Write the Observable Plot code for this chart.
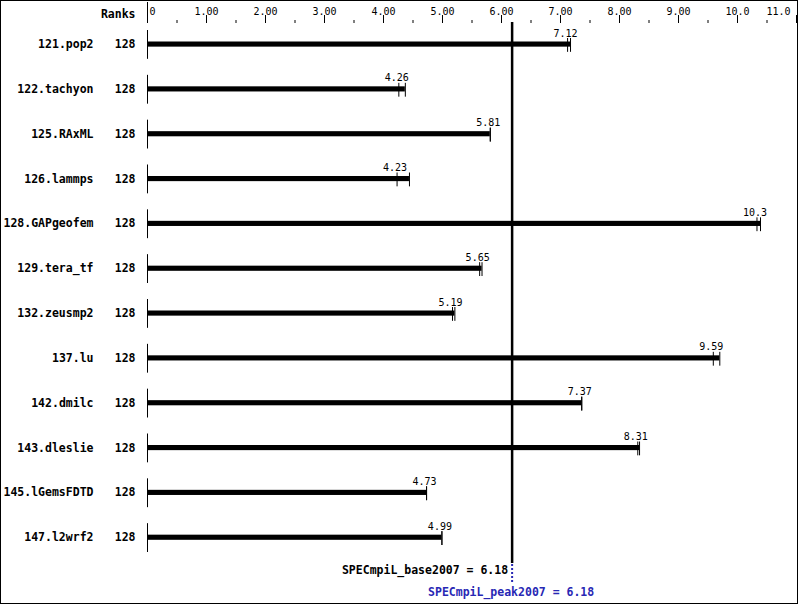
<!DOCTYPE html>
<html>
<head>
<meta charset="utf-8">
<script src="https://cdn.jsdelivr.net/npm/d3@7"></script>
<script src="https://cdn.jsdelivr.net/npm/@observablehq/plot@0.6"></script>
<style>
  body { margin: 0; background: #fff; }
  #wrap { position: relative; width: 799px; height: 606px; }
  #chart svg { display: block; }
  #chart svg, #chart svg text { font-family: "DejaVu Sans Mono", "Liberation Mono", monospace !important; }
  #border { position: absolute; left: 0; top: 0; width: 798px; height: 604px; box-sizing: border-box; border: 1px solid #000; pointer-events: none; }
</style>
</head>
<body>
<div id="wrap"><div id="chart"></div><div id="border"></div></div>
<script>
const names = ["121.pop2","122.tachyon","125.RAxML","126.lammps","128.GAPgeofem","129.tera_tf","132.zeusmp2","137.lu","142.dmilc","143.dleslie","145.lGemsFDTD","147.l2wrf2"];
const ranks = [128,128,128,128,128,128,128,128,128,128,128,128];
const labels = ["7.12","4.26","5.81","4.23","10.3","5.65","5.19","9.59","7.37","8.31","4.73","4.99"];
const runLow  = [7.12,4.26,5.81,4.23,10.33,5.63,5.17,9.59,7.36,8.31,4.73,4.99];
const runHigh = [7.17,4.37,5.81,4.44,10.39,5.67,5.21,9.70,7.36,8.34,4.73,4.99];
const majorTicks = [1,2,3,4,5,6,7,8,9,10,11];
const majorTickLabels = ["1.00","2.00","3.00","4.00","5.00","6.00","7.00","8.00","9.00","10.0","11.0"];
const minorTicks = [0.5,1.5,2.5,3.5,4.5,5.5,6.5,7.5,8.5,9.5,10.5];
const baseScore = 6.18;
const peakScore = 6.18;

const rows = names.map((n, i) => ({name: n, ranks: ranks[i], label: labels[i], lo: runLow[i], hi: runHigh[i]}));
const runs = rows.flatMap(r => [{name: r.name, v: r.lo}, {name: r.name, v: r.hi}]);
const centerTicks = majorTicks.slice(0, -1);
const lastTick = majorTicks[majorTicks.length - 1];

const chart = Plot.plot({
  width: 799,
  height: 606,
  marginLeft: 147,
  marginRight: 3,
  marginTop: 22,
  marginBottom: 46,
  style: {color: "#000", background: "#fff"},
  x: {domain: [0, 11]},
  y: {type: "band", domain: names, padding: 0, round: false, axis: null},
  marks: [
    Plot.axisX({anchor: "top", ticks: majorTicks, tickSize: 8, text: null, label: null, stroke: "#000"}),
    Plot.text(centerTicks, {x: d => d, text: d => majorTickLabels[majorTicks.indexOf(d)], frameAnchor: "top", dy: -14.5, fontSize: 10, fill: "#000"}),
    Plot.text([lastTick], {x: d => d, text: d => majorTickLabels[majorTicks.indexOf(d)], frameAnchor: "top", dy: -14.5, dx: -6, textAnchor: "end", fontSize: 10, fill: "#000"}),
    Plot.axisX({anchor: "top", ticks: minorTicks, tickSize: 3, text: null, label: null, stroke: "#000"}),
    Plot.axisX({anchor: "top", ticks: [0], tickSize: 21, text: null, label: null, stroke: "#000"}),
    Plot.text(["0"], {x: 0, frameAnchor: "top", dy: -14.5, dx: 2, textAnchor: "start", fontSize: 10, fill: "#000"}),
    Plot.text(["Ranks"], {x: 0, frameAnchor: "top", dy: -13, dx: -12, textAnchor: "end", fontSize: 11.5, fontWeight: "bold", fill: "#000"}),
    Plot.tickX(rows, {x: 0, y: "name", insetTop: 8, insetBottom: 8, stroke: "#000", strokeWidth: 1}),
    Plot.barX(rows, {x1: 0, x2: "hi", y: "name", insetTop: 19.5, insetBottom: 20.2, fill: "#000"}),
    Plot.tickX(runs, {x: "v", y: "name", insetTop: 16, insetBottom: 15, stroke: "#000", strokeWidth: 1}),
    Plot.text(rows, {x: "lo", y: "name", text: "label", dy: -11.5, dx: -2, fontSize: 10, fill: "#000"}),
    Plot.text(rows, {x: 0, y: "name", text: "name", dx: -54, dy: -0.5, textAnchor: "end", fontSize: 11.5, fontWeight: "bold", fill: "#000"}),
    Plot.text(rows, {x: 0, y: "name", text: d => String(d.ranks), dx: -12, dy: -0.5, textAnchor: "end", fontSize: 11.5, fontWeight: "bold", fill: "#000"}),
    Plot.ruleX([baseScore], {stroke: "#000", strokeWidth: 2.5, insetBottom: -3}),
    Plot.ruleX([peakScore], {stroke: "#2828b4", strokeWidth: 2, strokeDasharray: "2,2", insetTop: 542, insetBottom: -23}),
    Plot.text([`SPECmpiL_base2007 = ${baseScore.toFixed(2)}`], {x: baseScore, frameAnchor: "bottom", dy: 13, dx: -4, textAnchor: "end", fontSize: 11.5, fontWeight: "bold", fill: "#000"}),
    Plot.text([`SPECmpiL_peak2007 = ${peakScore.toFixed(2)}`], {x: peakScore, frameAnchor: "bottom", dy: 35, dx: -1, textAnchor: "middle", fontSize: 11.5, fontWeight: "bold", fill: "#2828b4"})
  ]
});
document.getElementById("chart").append(chart);
</script>
</body>
</html>
